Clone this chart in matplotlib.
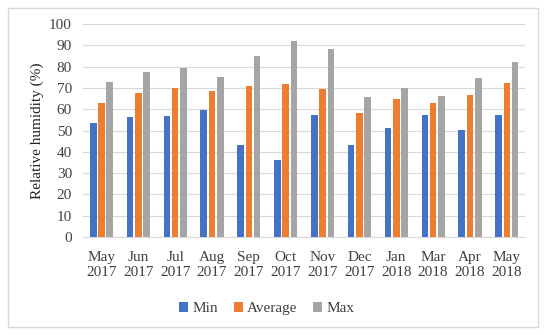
import numpy as np
import matplotlib
matplotlib.use("Agg")
import matplotlib.pyplot as plt
from matplotlib.patches import Rectangle

months = ["May\n2017", "Jun\n2017", "Jul\n2017", "Aug\n2017", "Sep\n2017", "Oct\n2017",
          "Nov\n2017", "Dec\n2017", "Jan\n2018", "Mar\n2018", "Apr\n2018", "May\n2018"]
rh_min = [53.7, 56.3, 56.9, 59.5, 43.3, 36.1, 57.3, 43.0, 51.2, 57.3, 50.2, 57.3]
rh_avg = [63.1, 67.8, 70.0, 68.7, 70.9, 71.9, 69.4, 58.4, 64.7, 63.1, 66.7, 72.5]
rh_max = [72.9, 77.6, 79.4, 75.0, 85.0, 92.2, 88.1, 65.6, 69.9, 66.2, 74.5, 82.3]

plt.rcParams['font.family'] = ['Liberation Serif', 'DejaVu Serif']

fig = plt.figure(figsize=(5.5, 3.35), dpi=100)
ax = fig.add_axes([0.151, 0.2925, 0.804, 0.6355])

# outer chart border like the Excel chart frame
fig.patches.append(Rectangle((8 / 550, 8 / 335), 530 / 550, 319 / 335,
                             transform=fig.transFigure, fill=False,
                             edgecolor='#d9d9d9', linewidth=1))

x = np.arange(len(months))
w = 0.18
off = 0.225
ax.bar(x - off, rh_min, w, color='#4472C4', label='Min', zorder=3)
ax.bar(x, rh_avg, w, color='#ED7D31', label='Average', zorder=3)
ax.bar(x + off, rh_max, w, color='#A5A5A5', label='Max', zorder=3)

ax.set_xlim(-0.5, len(months) - 0.5)
ax.set_ylim(0, 100)
ax.set_yticks(range(0, 101, 10))
ax.set_xticks(x)
ax.set_xticklabels(months, fontsize=11, color='#404040', linespacing=1.25)
ax.tick_params(axis='y', labelsize=11, colors='#404040', length=0, pad=8)
ax.tick_params(axis='x', length=0, pad=10)
ax.grid(axis='y', color='#d9d9d9', linewidth=0.8, zorder=0)
for s in ['top', 'right', 'left']:
    ax.spines[s].set_visible(False)
ax.spines['bottom'].set_color('#d9d9d9')
ax.set_ylabel('Relative humidity (%)', fontsize=11, color='#222222', labelpad=4)

fig.legend(loc='center', bbox_to_anchor=(0.485, 0.078), ncol=3, frameon=False,
           fontsize=11, handlelength=0.6, handleheight=0.6, handletextpad=0.3,
           columnspacing=1.0, labelcolor='#404040')

fig.savefig('out.png', dpi=100)
